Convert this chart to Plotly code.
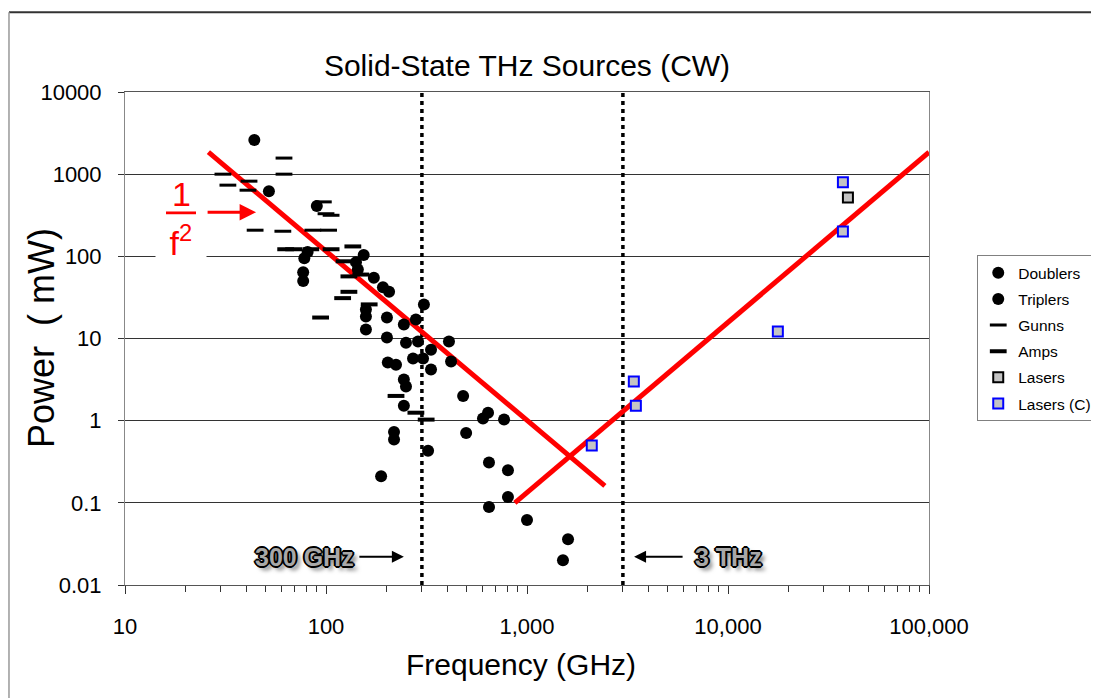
import math
import plotly.graph_objects as go

# ---------------- data ----------------
doublers_f = [44, 52, 90, 81, 78, 77, 77, 154, 141, 144, 173, 192, 206, 158, 158, 158,
              201, 201, 203, 223, 218, 218, 188]
doublers_p = [2600, 620, 410, 113, 95, 64, 50, 104, 85, 69, 55, 42, 37, 22.6, 18.5, 12.9,
              18, 10.3, 5.1, 4.8, 0.73, 0.59, 0.21]

triplers_f = [244, 280, 307, 250, 287, 333, 409, 271, 304, 419, 333, 244, 250, 481, 244,
              640, 604, 769, 498, 322, 647, 804, 804, 647, 1000, 1600, 1510]
triplers_p = [14.8, 17, 26, 8.9, 9.2, 7.3, 9.2, 5.7, 5.7, 5.25, 4.2, 3.16, 2.6, 2.0, 1.52,
              1.25, 1.06, 1.03, 0.71, 0.43, 0.31, 0.25, 0.118, 0.089, 0.062, 0.036, 0.020]

gunns_f = [30.7, 32.5, 41.4, 40.9, 61.8, 61.8, 44.4, 61, 86, 103, 97, 100, 106]
gunns_p = [1000, 735, 822, 638, 1570, 1000, 208, 202, 208, 208, 460, 330, 316]

amps_f = [63, 69, 84, 106, 136, 149, 130, 130, 123, 121, 164, 94, 223, 280, 315]
amps_p = [122, 122, 122, 122, 132, 60, 57, 37, 87, 31, 26, 18, 2.0, 1.25, 1.03]

lasers_f = [39500]
lasers_p = [520]

lasers_c_f = [2100, 3400, 3480, 17700, 37300, 37300]
lasers_c_p = [0.50, 3.0, 1.52, 12.2, 800, 200]

fit_low_f = [26, 2440]
fit_low_p = [1850, 0.161]
fit_high_f = [870, 100000]
fit_high_p = [0.1, 1850]

boundary_f = [300, 3000]
power_span = [0.01, 10000]

x_tickvals = [10, 100, 1000, 10000, 100000]
x_ticktext = ["10", "100", "1,000", "10,000", "100,000"]
x_minor_vals = [m * d for d in [10, 100, 1000, 10000] for m in range(2, 10)]
y_tickvals = [0.01, 0.1, 1, 10, 100, 1000, 10000]
y_ticktext = ["0.01", "0.1", "1", "10", "100", "1000", "10000"]

# ---------------- figure ----------------
FONT = "Liberation Sans Narrow, Arial Narrow, Liberation Sans, Arial, sans-serif"

fig = go.Figure()

# boundary lines (dotted)
for bf in boundary_f:
    fig.add_trace(go.Scatter(x=[bf, bf], y=power_span, mode="lines",
                             line=dict(color="black", width=3.5, dash="4px,4px"),
                             showlegend=False, hoverinfo="skip"))

# red trend lines
fig.add_trace(go.Scatter(x=fit_low_f, y=fit_low_p, mode="lines",
                         line=dict(color="#ff0000", width=5), showlegend=False))
fig.add_trace(go.Scatter(x=fit_high_f, y=fit_high_p, mode="lines",
                         line=dict(color="#ff0000", width=5), showlegend=False))

fig.add_trace(go.Scatter(x=doublers_f, y=doublers_p, mode="markers", name="Doublers",
                         legendgroup="d",
                         marker=dict(symbol="circle", size=12, color="black")))
fig.add_trace(go.Scatter(x=triplers_f, y=triplers_p, mode="markers", name="Triplers",
                         legendgroup="t",
                         marker=dict(symbol="circle", size=12, color="black")))
fig.add_trace(go.Scatter(x=gunns_f, y=gunns_p, mode="markers", name="Gunns",
                         legendgroup="g",
                         marker=dict(symbol="line-ew", size=12,
                                     line=dict(color="black", width=3))))
fig.add_trace(go.Scatter(x=amps_f, y=amps_p, mode="markers", name="Amps",
                         legendgroup="a",
                         marker=dict(symbol="line-ew", size=12,
                                     line=dict(color="black", width=4))))
fig.add_trace(go.Scatter(x=lasers_f, y=lasers_p, mode="markers", name="Lasers",
                         legendgroup="l",
                         marker=dict(symbol="square", size=10, color="#c4c4c4",
                                     line=dict(color="black", width=2))))
fig.add_trace(go.Scatter(x=lasers_c_f, y=lasers_c_p, mode="markers", name="Lasers (C)",
                         legendgroup="c",
                         marker=dict(symbol="square", size=10, color="#c4c4c4",
                                     line=dict(color="#0000ff", width=2))))

outline = ("-1px -1px 0 #000, 1px -1px 0 #000, -1px 1px 0 #000, 1px 1px 0 #000, "
           "-2px 0 0 #000, 2px 0 0 #000, 0 -2px 0 #000, 0 2px 0 #000, 4px 4px 4px #777")

annotations = [
    # axis titles
    dict(x=0.4925, y=-0.162, xref="paper", yref="paper", text="Frequency (GHz)",
         xanchor="center", yanchor="middle",
         showarrow=False, font=dict(family=FONT, size=30, color="black")),
    dict(x=-0.1045, y=0.501, xref="paper", yref="paper", text="Power  ( mW)",
         xanchor="center", yanchor="middle",
         textangle=-90, showarrow=False, font=dict(family=FONT, size=36, color="black")),
    # boundary labels
    dict(x=math.log10(78), y=math.log10(0.022), xref="x", yref="y", text="<b>300 GHz</b>",
         showarrow=False, font=dict(family=FONT, size=25, color="#a8a8a8", shadow=outline)),
    dict(x=math.log10(244), y=math.log10(0.022), xref="x", yref="y", text="",
         showarrow=True, ax=-46, ay=0, arrowhead=2, arrowsize=1.2, arrowwidth=2,
         arrowcolor="black"),
    dict(x=math.log10(10000), y=math.log10(0.022), xref="x", yref="y", text="<b>3 THz</b>",
         showarrow=False, font=dict(family=FONT, size=25, color="#a8a8a8", shadow=outline)),
    dict(x=math.log10(3410), y=math.log10(0.022), xref="x", yref="y", text="",
         showarrow=True, ax=50, ay=0, arrowhead=2, arrowsize=1.2, arrowwidth=2,
         arrowcolor="black"),
    # 1/f^2 label
    dict(x=math.log10(19), y=math.log10(570), xref="x", yref="y", text="1",
         showarrow=False, font=dict(family=FONT, size=34, color="#ff0000")),
    dict(x=math.log10(19), y=math.log10(155), xref="x", yref="y",
         text="&nbsp;f<sup>2</sup>&nbsp;",
         showarrow=False, bgcolor="white", borderpad=4,
         font=dict(family=FONT, size=34, color="#ff0000")),
    dict(x=math.log10(44.9), y=math.log10(344), xref="x", yref="y", text="",
         showarrow=True, ax=-50, ay=0, arrowhead=2, arrowsize=1.1, arrowwidth=3,
         arrowcolor="#ff0000"),
]

shapes = [
    # fraction bar
    dict(type="line", xref="paper", yref="paper", x0=0.0510, x1=0.0883, y0=0.7546, y1=0.7546,
         line=dict(color="#ff0000", width=3)),
    # outer frame
    dict(type="line", xref="paper", yref="paper", x0=-0.1443, x1=1.22, y0=1.162, y1=1.162,
         line=dict(color="#333333", width=2)),
    dict(type="line", xref="paper", yref="paper", x0=-0.1443, x1=-0.1443, y0=-0.23, y1=1.162,
         line=dict(color="#999999", width=1.5)),
]

fig.update_layout(
    width=1099, height=698,
    margin=dict(l=117, r=178, t=84, b=121, autoexpand=False),
    paper_bgcolor="white", plot_bgcolor="white",
    font=dict(family=FONT, color="black"),
    title=dict(text="Solid-State THz Sources (CW)", x=0.50, xref="paper",
               y=1 - 57 / 698, yanchor="middle", xanchor="center",
               font=dict(family=FONT, size=30, color="black")),
    showlegend=True,
    legend=dict(x=1.060, y=0.669, xanchor="left", yanchor="top",
                bordercolor="#808080", borderwidth=1, bgcolor="white",
                font=dict(family=FONT, size=15.5, color="black"),
                tracegroupgap=3, itemwidth=30),
    annotations=annotations,
    shapes=shapes,
)

fig.update_xaxes(type="log", range=[1, 5], tickvals=x_tickvals, ticktext=x_ticktext,
                 ticks="outside", ticklen=8, tickcolor="#333", showgrid=False,
                 showline=True, linecolor="#555", linewidth=1, mirror=True,
                 tickfont=dict(family=FONT, size=22), zeroline=False,
                 ticklabelstandoff=14,
                 minor=dict(ticks="outside", ticklen=6, tickcolor="#333", showgrid=False,
                            tickvals=x_minor_vals))
fig.update_yaxes(type="log", range=[-2, 4], tickvals=y_tickvals, ticktext=y_ticktext,
                 ticks="outside", ticklen=6, tickcolor="#333",
                 showgrid=True, gridcolor="#333", gridwidth=1,
                 showline=True, linecolor="#888", linewidth=1, mirror=True,
                 tickfont=dict(family=FONT, size=22), zeroline=False,
                 ticklabelstandoff=12)

fig.write_html("out.html")
